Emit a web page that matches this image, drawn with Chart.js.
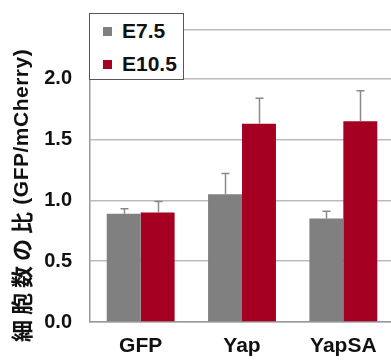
<!DOCTYPE html>
<html>
<head>
<meta charset="utf-8">
<script src="https://cdn.jsdelivr.net/npm/chart.js@4"></script>
<style>
  html, body { margin: 0; padding: 0; background: #fff; overflow: hidden; width: 391px; height: 360px; }
  #wrap { position: relative; width: 394px; height: 360px; }
  #legend { position: absolute; left: 89px; top: 13px; width: 95px; height: 67px; box-sizing: border-box;
    border: 1px solid #555; background: #fff; font: bold 21px "Liberation Sans", Arial, sans-serif; color: #111; }
  #legend div { position: absolute; left: 13px; height: 24px; line-height: 24px; white-space: nowrap; }
  #legend span { display: inline-block; width: 9px; height: 9px; margin-right: 10px; vertical-align: 2px; }
</style>
</head>
<body>
<div id="wrap">
  <canvas id="myChart" width="394" height="360"></canvas>
  <div id="legend"></div>
</div>
<script>
// data
var categories = ['GFP', 'Yap', 'YapSA'];
var seriesNames = ['E7.5', 'E10.5'];
var e75 = [0.89, 1.05, 0.85];
var e75err = [0.04, 0.17, 0.06];
var e105 = [0.90, 1.63, 1.65];
var e105err = [0.09, 0.21, 0.25];
var yTicks = [0, 0.5, 1.0, 1.5, 2.0];
var yMax = 2.4;
var yTitle = ['細胞数の比', ' (GFP/mCherry)'];

var colors = ['#808080', '#a50021'];
var errs = [e75err, e105err];

// error bars (upper only)
var errorBars = {
  id: 'errorBars',
  afterDatasetsDraw: function(chart) {
    var c = chart.ctx, ys = chart.scales.y;
    c.save();
    c.strokeStyle = '#8a8a8a';
    c.lineWidth = 1.5;
    chart.data.datasets.forEach(function(ds, i) {
      chart.getDatasetMeta(i).data.forEach(function(bar, j) {
        var top = ys.getPixelForValue(ds.data[j] + errs[i][j]);
        var x = Math.round(bar.x) + 0.5;
        c.beginPath();
        c.moveTo(x, bar.y);
        c.lineTo(x, top);
        c.moveTo(x - 4, top);
        c.lineTo(x + 4, top);
        c.stroke();
      });
    });
    c.restore();
  }
};

// rotated y title, placed like the original (a bit low)
var yTitlePlugin = {
  id: 'yTitle',
  afterDraw: function(chart) {
    var c = chart.ctx;
    c.save();
    c.translate(22, 342);
    c.rotate(-Math.PI / 2);
    c.fillStyle = '#111';
    c.textBaseline = 'middle';
    c.textAlign = 'left';
    c.font = 'bold 22px "Noto Sans CJK JP"';
    c.letterSpacing = '5px';
    c.fillText(yTitle[0], 0, 0);
    var w = c.measureText(yTitle[0]).width;
    c.letterSpacing = '0.5px';
    c.font = 'bold 21px "Liberation Sans", Arial';
    c.fillText(yTitle[1], w - 4, 0);
    c.restore();
  }
};

var ctx = document.getElementById('myChart').getContext('2d');
var myChart = new Chart(ctx, {
  type: 'bar',
  data: {
    labels: categories,
    datasets: [
      { label: seriesNames[0], data: e75, backgroundColor: colors[0] },
      { label: seriesNames[1], data: e105, backgroundColor: colors[1] }
    ]
  },
  options: {
    responsive: false,
    animation: false,
    devicePixelRatio: 1,
    layout: { padding: { top: 13, left: 0, right: 0, bottom: 0 } },
    datasets: { bar: { categoryPercentage: 0.67, barPercentage: 1.0 } },
    plugins: { legend: { display: false }, tooltip: { enabled: false } },
    scales: {
      x: {
        grid: { display: false, drawTicks: false },
        border: { color: '#999', width: 1.5 },
        ticks: { color: '#111', padding: 12, font: { family: '"Liberation Sans", Arial', size: 21, weight: 'bold' } },
        afterFit: function(s) { s.height = 38; }
      },
      y: {
        min: 0, max: yMax,
        afterBuildTicks: function(s) {
          s.ticks = yTicks.concat([yMax]).map(function(v) { return { value: v }; });
        },
        grid: { color: '#bbb', lineWidth: 1.5, drawTicks: false },
        border: { color: '#999', width: 1.5 },
        ticks: {
          color: '#111', padding: 18,
          font: { family: '"Liberation Sans", Arial', size: 20, weight: 'bold' },
          callback: function(v) { return yTicks.indexOf(v) >= 0 ? v.toFixed(1) : ''; }
        },
        afterFit: function(s) { s.width = 90; }
      }
    }
  },
  plugins: [errorBars, yTitlePlugin]
});

// legend box
var lg = document.getElementById('legend');
seriesNames.forEach(function(n, i) {
  var d = document.createElement('div');
  d.style.top = (5 + i * 33) + 'px';
  d.innerHTML = '<span style="background:' + colors[i] + '"></span>' + n;
  lg.appendChild(d);
});
</script>
</body>
</html>
